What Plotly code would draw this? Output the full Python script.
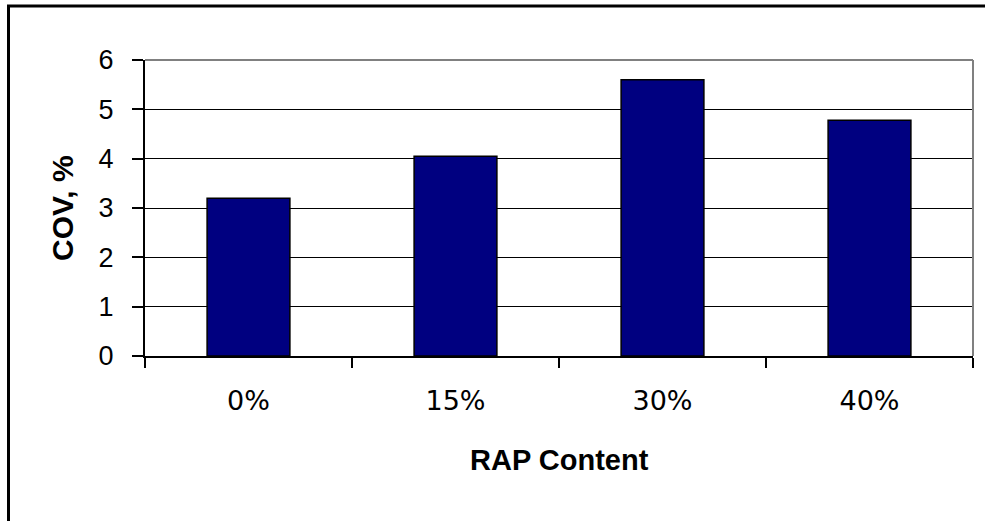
import plotly.graph_objects as go

# RAP content levels and the coefficient of variation measured for each
rap_content = ["0%", "15%", "30%", "40%"]
cov_percent = [3.2, 4.05, 5.6, 4.78]
y_ticks = [0, 1, 2, 3, 4, 5, 6]

W, H = 985, 521
L, R, T, B = 145, 12, 60, 165
plot_w = W - L - R
plot_h = H - T - B

fig = go.Figure(
    go.Bar(
        x=rap_content,
        y=cov_percent,
        marker=dict(color="#000080", line=dict(color="black", width=1.5)),
        width=0.4,
        hoverinfo="x+y",
    )
)

fig.update_layout(
    width=W,
    height=H,
    margin=dict(l=L, r=R, t=T, b=B),
    paper_bgcolor="white",
    plot_bgcolor="white",
    showlegend=False,
    font=dict(family="Liberation Sans, Arial, sans-serif", color="black"),
    xaxis=dict(
        type="category",
        tickson="boundaries",
        ticks="outside",
        ticklen=10,
        tickwidth=2,
        tickcolor="black",
        showline=True,
        linecolor="black",
        linewidth=2,
        showgrid=False,
        tickfont=dict(size=27, family="DejaVu Sans, Liberation Sans, sans-serif"),
        ticklabelstandoff=20,
    ),
    yaxis=dict(
        range=[0, 6],
        tickvals=y_ticks,
        ticks="outside",
        ticklen=11,
        tickwidth=2,
        tickcolor="black",
        showline=True,
        linecolor="black",
        linewidth=2,
        showgrid=True,
        gridcolor="black",
        gridwidth=1,
        zeroline=False,
        tickfont=dict(size=27),
        ticklabelstandoff=13,
    ),
    annotations=[
        dict(
            text="<b>RAP Content</b>",
            xref="paper", yref="paper",
            x=0.5, y=-(460 - (T + plot_h)) / plot_h,
            xanchor="center", yanchor="middle",
            showarrow=False,
            font=dict(size=29),
        ),
        dict(
            text="<b>COV, %</b>",
            xref="paper", yref="paper",
            x=-(L - 62) / plot_w, y=0.5,
            xanchor="center", yanchor="middle",
            textangle=-90,
            showarrow=False,
            font=dict(size=30),
        ),
    ],
    shapes=[
        # grey top and right edges of the plot area
        dict(type="line", xref="paper", yref="paper", x0=0, x1=1, y0=1, y1=1,
             line=dict(color="#808080", width=2), layer="above"),
        dict(type="line", xref="paper", yref="paper", x0=1, x1=1, y0=0, y1=1,
             line=dict(color="#808080", width=2), layer="above"),
        # chart frame
        dict(type="rect", xref="paper", yref="paper",
             x0=(8.5 - L) / plot_w, x1=(W + 20 - L) / plot_w,
             y0=-(H + 20 - T - plot_h) / plot_h, y1=1 + (T - 6) / plot_h,
             line=dict(color="black", width=3), layer="above"),
    ],
)

fig.write_html("out.html")
